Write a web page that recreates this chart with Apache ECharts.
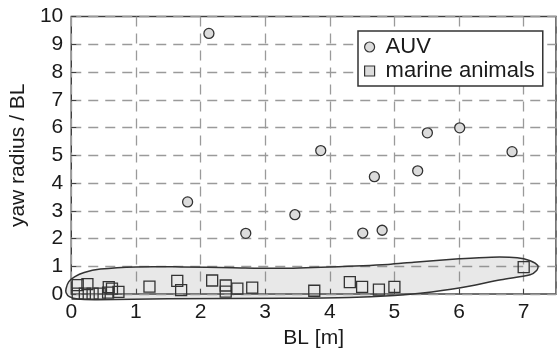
<!DOCTYPE html>
<html>
<head>
<meta charset="utf-8">
<script src="https://cdn.jsdelivr.net/npm/echarts@6/dist/echarts.min.js"></script>
<style>
  html, body { margin: 0; padding: 0; background: #fff; }
  #chart { width: 557px; height: 354px; }
</style>
</head>
<body>
<div id="chart"></div>
<script>
const xTicks = [0, 1, 2, 3, 4, 5, 6, 7];
const yTicks = [0, 1, 2, 3, 4, 5, 6, 7, 8, 9, 10];

// [BL, yaw radius / BL]
const auvPoints = [
  [1.80, 3.32], [2.13, 9.39], [2.70, 2.19], [3.46, 2.86], [3.86, 5.17], [4.51, 2.20],
  [4.69, 4.23], [4.81, 2.30], [5.36, 4.44], [5.51, 5.81], [6.01, 5.99], [6.82, 5.13]
];

const animalPoints = [
  [0.10, 0.32], [0.25, 0.36], [0.10, 0.02], [0.21, 0.02], [0.33, 0.02], [0.44, 0.02],
  [0.58, 0.25], [0.63, 0.20], [0.57, 0.05], [0.73, 0.08],
  [1.21, 0.27], [1.64, 0.48], [1.70, 0.14], [2.18, 0.49], [2.39, 0.31], [2.39, 0.09],
  [2.57, 0.20], [2.80, 0.23], [3.76, 0.12], [4.31, 0.43], [4.50, 0.26], [4.76, 0.16],
  [5.00, 0.26], [7.00, 0.97]
];

// hand-drawn envelope around the marine animal group
const envelope = [
  [-0.08, 0.20], [-0.04, 0.44], [0.05, 0.62], [0.20, 0.78], [0.45, 0.90], [1.00, 0.98],
  [1.70, 0.98], [2.50, 0.95], [3.20, 0.93], [4.00, 0.98], [4.90, 1.07], [5.30, 1.15],
  [6.00, 1.27], [6.50, 1.33], [6.90, 1.31], [7.10, 1.20], [7.22, 1.02], [7.20, 0.85],
  [7.10, 0.70], [6.65, 0.52], [6.00, 0.22], [5.40, 0.03], [5.00, -0.05], [4.30, -0.12],
  [3.30, -0.15], [1.50, -0.17], [0.40, -0.20], [0.10, -0.18], [-0.03, -0.09], [-0.08, 0.05]
];

const font = '"Liberation Sans", Arial, sans-serif';
const textColor = '#1a1a1a';

const chart = echarts.init(document.getElementById('chart'));

const option = {
  animation: false,
  grid: {
    left: 60, right: 1, top: 16.5, bottom: 56.5,
    show: true,
    borderColor: '#404040',
    borderWidth: 1.5
  },
  legend: {
    orient: 'vertical',
    left: 358,
    top: 31,
    padding: [5, 8, 4, 6],
    itemGap: 2,
    itemWidth: 10,
    itemHeight: 10,
    itemStyle: {borderColor: '#333', borderWidth: 1.2},
    backgroundColor: '#fff',
    borderColor: '#333',
    borderWidth: 1.5,
    borderRadius: 0,
    textStyle: {fontFamily: font, fontSize: 22, color: textColor, lineHeight: 22, padding: [0, 0, 0, 6]},
    data: [
      {name: 'AUV', icon: 'circle', itemStyle: {color: '#dcdcdc', borderColor: '#333'}},
      {name: 'marine animals', icon: 'rect', itemStyle: {color: '#dcdcdc', borderColor: '#333'}}
    ]
  },
  xAxis: {
    type: 'value',
    min: 0,
    max: 7.5,
    interval: 1,
    name: 'BL [m]',
    nameLocation: 'middle',
    nameGap: 30,
    nameTextStyle: {fontFamily: font, fontSize: 21, color: textColor},
    axisLine: {show: false},
    axisTick: {show: true, inside: true, length: 5, lineStyle: {color: '#404040'}},
    axisLabel: {
      fontFamily: font, fontSize: 21, color: textColor, margin: 8,
      showMaxLabel: false,
      formatter: v => (xTicks.indexOf(v) >= 0 ? String(v) : '')
    },
    splitLine: {show: true, lineStyle: {color: '#9a9a9a', width: 1.3, type: [10, 7]}}
  },
  yAxis: {
    type: 'value',
    min: 0,
    max: 10,
    interval: 1,
    name: 'yaw radius / BL',
    nameLocation: 'middle',
    nameGap: 27,
    nameTextStyle: {fontFamily: font, fontSize: 21, color: textColor},
    axisLine: {show: false},
    axisTick: {show: true, inside: true, length: 5, lineStyle: {color: '#404040'}},
    axisLabel: {
      fontFamily: font, fontSize: 21, color: textColor, margin: 8,
      formatter: v => (yTicks.indexOf(v) >= 0 ? String(v) : '')
    },
    splitLine: {show: true, lineStyle: {color: '#9a9a9a', width: 1.3, type: [10, 7]}}
  },
  series: [
    {
      type: 'custom',
      name: 'envelope',
      clip: false,
      silent: true,
      z: 1,
      data: [0],
      renderItem: function (params, api) {
        const pts = envelope.map(p => api.coord(p));
        return {
          type: 'polygon',
          shape: {points: pts, smooth: 0.3},
          style: {fill: 'rgba(120,120,120,0.17)', stroke: '#333', lineWidth: 1.5}
        };
      }
    },
    {
      type: 'scatter',
      name: 'AUV',
      symbol: 'circle',
      symbolSize: 10,
      z: 3,
      itemStyle: {color: '#dcdcdc', borderColor: '#333', borderWidth: 1.3, opacity: 1},
      data: auvPoints
    },
    {
      type: 'scatter',
      name: 'marine animals',
      symbol: 'rect',
      symbolSize: 11,
      z: 3,
      itemStyle: {color: 'rgba(0,0,0,0)', borderColor: '#333', borderWidth: 1.3, opacity: 1},
      data: animalPoints
    }
  ]
};

chart.setOption(option);
</script>
</body>
</html>
